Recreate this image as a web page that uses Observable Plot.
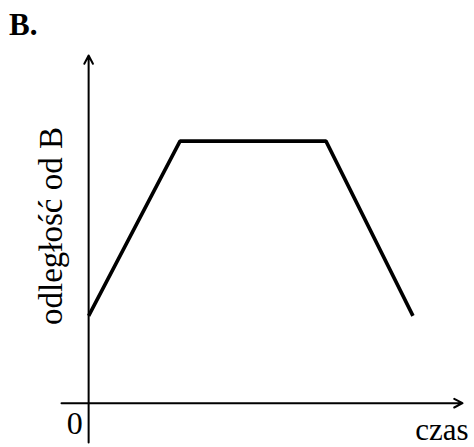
<!DOCTYPE html>
<html>
<head>
<meta charset="utf-8">
<script src="https://cdn.jsdelivr.net/npm/d3@7"></script>
<script src="https://cdn.jsdelivr.net/npm/@observablehq/plot@0.6"></script>
<style>
  html, body { margin: 0; padding: 0; background: #fff; }
  #chart { position: relative; width: 474px; height: 447px; }
  #chart svg, #chart svg text { font-family: "Liberation Serif", "Times New Roman", serif; }
</style>
</head>
<body>
<div id="chart"></div>
<script>
// Time points and distance from B (schematic units)
const czas = [0, 3.1, 8.05, 11];
const odleglosc = [1, 3, 3, 1];

// Extent of the drawn axes (in data units), ending in arrows
const xAxisExtent = [-0.92, 12.68];
const yAxisExtent = [-0.45, 3.98];

// Labels
const panelLabel = "B.";
const xLabel = "czas";
const yLabel = "odległość od B";
const originLabel = "0";

const data = czas.map((t, i) => ({t, d: odleglosc[i]}));
const font = "'Liberation Serif', 'Times New Roman', serif";

const chart = Plot.plot({
  width: 474,
  height: 447,
  marginLeft: 61,
  marginRight: 12,
  marginTop: 55,
  marginBottom: 5,
  x: {domain: xAxisExtent, axis: null},
  y: {domain: yAxisExtent, axis: null},
  style: {fontFamily: font, background: "#fff", overflow: "visible"},
  marks: [
    // horizontal axis with arrow
    Plot.arrow([{}], {
      x1: () => xAxisExtent[0], y1: () => 0,
      x2: () => xAxisExtent[1], y2: () => 0,
      stroke: "#000", strokeWidth: 2, headLength: 7, headAngle: 55,
      insetStart: 0, insetEnd: 0
    }),
    // vertical axis with arrow
    Plot.arrow([{}], {
      x1: () => 0, y1: () => yAxisExtent[0],
      x2: () => 0, y2: () => yAxisExtent[1],
      stroke: "#000", strokeWidth: 2, headLength: 7, headAngle: 55,
      insetStart: 0, insetEnd: 0
    }),
    // distance over time
    Plot.line(data, {
      x: "t", y: "d",
      stroke: "#000", strokeWidth: 3.6,
      strokeLinejoin: "miter", strokeLinecap: "butt"
    }),
    // origin label
    Plot.text([originLabel], {
      x: () => 0, y: () => 0, text: d => d,
      textAnchor: "end", lineAnchor: "bottom",
      dx: -6, dy: 31,
      fontSize: 32, fontFamily: font, fill: "#000"
    }),
    // x label
    Plot.text([xLabel], {
      x: () => xAxisExtent[1], y: () => 0, text: d => d,
      textAnchor: "end", lineAnchor: "bottom",
      dx: 6, dy: 37,
      fontSize: 31, fontFamily: font, fill: "#000"
    }),
    // y label
    Plot.text([yLabel], {
      frameAnchor: "left", text: d => d,
      rotate: -90, textAnchor: "middle", lineAnchor: "bottom",
      dx: 0, dy: -23,
      fontSize: 33, fontFamily: font, fill: "#000"
    })
  ]
});

const chartDiv = document.getElementById("chart");
chartDiv.appendChild(chart);

// Panel letter in the top-left corner
d3.select(chart).append("text")
  .attr("x", 9)
  .attr("y", 35)
  .attr("text-anchor", "start")
  .style("font-family", font)
  .attr("font-weight", "bold")
  .attr("font-size", 31)
  .attr("fill", "#000")
  .text(panelLabel);
</script>
</body>
</html>
